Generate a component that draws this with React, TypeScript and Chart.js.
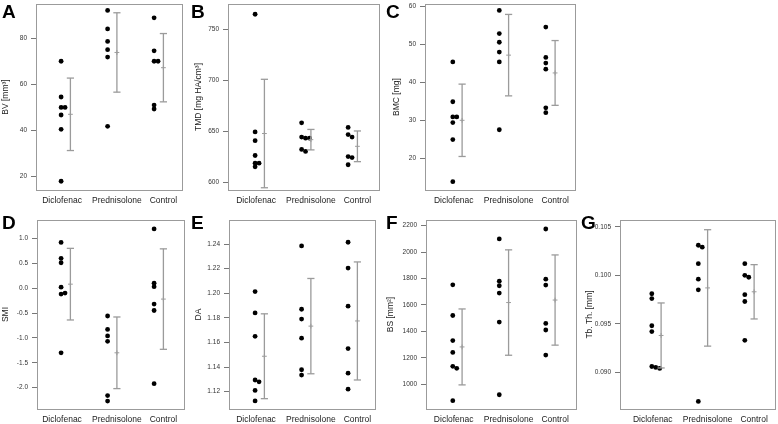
import React, { useEffect, useRef } from "react";
import { Chart, registerables } from "chart.js";
Chart.register(...registerables);

const FONT = "'Liberation Sans', Arial, Helvetica, sans-serif";
const GRAY = "#9b9b9b";

const groups = ["Diclofenac", "Prednisolone", "Control"];

// A — BV
const bvDiclofenac = [70, 54.5, 50, 50, 46.7, 40.5, 18];
const bvPrednisolone = [92, 84, 78.6, 75, 71.8, 41.8];
const bvControl = [88.8, 74.5, 70, 70, 51, 49.3];
const bvMean = [47, 73.8, 67.2];
const bvSd = [15.7, 17.2, 14.8];
const bvRange = [14.2, 94.8];
const bvTicks = [20, 40, 60, 80];
const bvTickLabels = ["20", "40", "60", "80"];

// B — TMD
const tmdDiclofenac = [764.6, 649.6, 641, 626.5, 619, 619, 615.5];
const tmdPrednisolone = [658.5, 644.5, 643.5, 643.5, 632.5, 630.5];
const tmdControl = [654, 647, 644.5, 625.5, 624.5, 617.5];
const tmdMean = [648, 642, 635.5];
const tmdSd = [53, 10, 15];
const tmdRange = [592.8, 774.6];
const tmdTicks = [600, 650, 700, 750];
const tmdTickLabels = ["600", "650", "700", "750"];

// C — BMC
const bmcDiclofenac = [45.4, 34.9, 30.9, 30.9, 29.4, 24.9, 13.8];
const bmcPrednisolone = [59, 52.9, 50.6, 48, 45.4, 27.5];
const bmcControl = [54.6, 46.6, 45.1, 43.5, 33.3, 32];
const bmcMean = [30, 47.2, 42.5];
const bmcSd = [9.55, 10.75, 8.55];
const bmcRange = [11.6, 60.7];
const bmcTicks = [20, 30, 40, 50, 60];
const bmcTickLabels = ["20", "30", "40", "50", "60"];

// D — SMI
const smiDiclofenac = [0.92, 0.6, 0.51, 0.02, -0.12, -0.1, -1.3];
const smiPrednisolone = [-0.56, -0.83, -0.96, -1.07, -2.16, -2.27];
const smiControl = [1.19, 0.1, 0.03, -0.32, -0.45, -1.92];
const smiMean = [0.08, -1.3, -0.22];
const smiSd = [0.72, 0.72, 1.01];
const smiRange = [-2.43, 1.37];
const smiTicks = [-2, -1.5, -1, -0.5, 0, 0.5, 1];
const smiTickLabels = ["-2.0", "-1.5", "-1.0", "-0.5", "0.0", "0.5", "1.0"];

// E — DA
const daDiclofenac = [1.2014, 1.184, 1.165, 1.1295, 1.128, 1.121, 1.1125];
const daPrednisolone = [1.2385, 1.187, 1.179, 1.1635, 1.1378, 1.1335];
const daControl = [1.2415, 1.2205, 1.1895, 1.155, 1.135, 1.122];
const daMean = [1.1488, 1.1733, 1.1775];
const daSd = [0.0345, 0.03875, 0.048];
const daRange = [1.1059, 1.2596];
const daTicks = [1.12, 1.14, 1.16, 1.18, 1.2, 1.22, 1.24];
const daTickLabels = ["1.12", "1.14", "1.16", "1.18", "1.20", "1.22", "1.24"];

// F — BS
const bsDiclofenac = [1752, 1520, 1330, 1240, 1135, 1120, 875];
const bsPrednisolone = [2100, 1780, 1745, 1690, 1470, 920];
const bsControl = [2175, 1795, 1750, 1460, 1410, 1220];
const bsMean = [1282, 1618, 1637];
const bsSd = [287.5, 399, 341.5];
const bsRange = [812, 2243];
const bsTicks = [1000, 1200, 1400, 1600, 1800, 2000, 2200];
const bsTickLabels = ["1000", "1200", "1400", "1600", "1800", "2000", "2200"];

// G — Tb.Th.
const tbthDiclofenac = [0.0981, 0.0976, 0.0948, 0.0942, 0.0906, 0.0905, 0.0904];
const tbthPrednisolone = [0.1031, 0.1029, 0.1012, 0.0996, 0.0985, 0.087];
const tbthControl = [0.1012, 0.1, 0.0998, 0.098, 0.0973, 0.0933];
const tbthMean = [0.0938, 0.0987, 0.0983];
const tbthSd = [0.00335, 0.006, 0.0028];
const tbthRange = [0.08622, 0.1057];
const tbthTicks = [0.09, 0.095, 0.1, 0.105];
const tbthTickLabels = ["0.090", "0.095", "0.100", "0.105"];

// layout (not data)
const PAD = 8;
const X_AXIS_H = 22;
const DOT_SHIFT = -0.1;
const EB_SHIFT = 0.1;
const STACK_STEP = 0.085;
const LABEL_POS = [0.92, 2.1, 3.1];

const PANELS = [
  { letter: "A", title: "BV [mm³]", values: [bvDiclofenac, bvPrednisolone, bvControl], mean: bvMean, sd: bvSd, range: bvRange, ticks: bvTicks, tickLabels: bvTickLabels,
    box: { l: 36, t: 4, r: 182, b: 190 }, titleX: 6.5, xMin: 0.36, xMax: 3.5, lx: 2, ly: 2 },
  { letter: "B", title: "TMD [mg HA/cm³]", values: [tmdDiclofenac, tmdPrednisolone, tmdControl], mean: tmdMean, sd: tmdSd, range: tmdRange, ticks: tmdTicks, tickLabels: tmdTickLabels,
    box: { l: 228, t: 4, r: 379, b: 190 }, titleX: 199.5, xMin: 0.317, xMax: 3.564, lx: 191, ly: 2 },
  { letter: "C", title: "BMC [mg]", values: [bmcDiclofenac, bmcPrednisolone, bmcControl], mean: bmcMean, sd: bmcSd, range: bmcRange, ticks: bmcTicks, tickLabels: bmcTickLabels,
    box: { l: 425, t: 4, r: 575, b: 190 }, titleX: 397, xMin: 0.302, xMax: 3.528, lx: 386, ly: 2 },
  { letter: "D", title: "SMI", values: [smiDiclofenac, smiPrednisolone, smiControl], mean: smiMean, sd: smiSd, range: smiRange, ticks: smiTicks, tickLabels: smiTickLabels,
    box: { l: 37, t: 220, r: 184, b: 409 }, titleX: 6, xMin: 0.382, xMax: 3.543, lx: 2, ly: 213 },
  { letter: "E", title: "DA", values: [daDiclofenac, daPrednisolone, daControl], mean: daMean, sd: daSd, range: daRange, ticks: daTicks, tickLabels: daTickLabels,
    box: { l: 229, t: 220, r: 375, b: 409 }, titleX: 199, xMin: 0.339, xMax: 3.479, lx: 191, ly: 213 },
  { letter: "F", title: "BS [mm²]", values: [bsDiclofenac, bsPrednisolone, bsControl], mean: bsMean, sd: bsSd, range: bsRange, ticks: bsTicks, tickLabels: bsTickLabels,
    box: { l: 426, t: 220, r: 576, b: 409 }, titleX: 391, xMin: 0.324, xMax: 3.55, lx: 386, ly: 213 },
  { letter: "G", title: "Tb. Th. [mm]", values: [tbthDiclofenac, tbthPrednisolone, tbthControl], mean: tbthMean, sd: tbthSd, range: tbthRange, ticks: tbthTicks, tickLabels: tbthTickLabels,
    box: { l: 620, t: 220, r: 775, b: 409 }, titleX: 590, xMin: 0.216, xMax: 3.549, lx: 581, ly: 213 },
];

const TITLE_SIZE = 8.5;
const TITLE_PAD = 1;
const TITLE_OFF = (TITLE_SIZE * 1.2) / 2 + TITLE_PAD;

function geometry(p: any) {
  const left = Math.round(p.titleX - TITLE_OFF);
  const top = p.box.t - PAD;
  const width = p.box.r + PAD - left;
  const height = p.box.b - top + X_AXIS_H;
  return { left, top, width, height, yw: p.box.l - left };
}

const boxPlugin = {
  id: "plotBox",
  beforeDatasetsDraw(chart: any) {
    const { ctx, chartArea } = chart;
    ctx.save();
    ctx.strokeStyle = GRAY;
    ctx.lineWidth = 1;
    ctx.strokeRect(chartArea.left + 0.5, chartArea.top + 0.5, chartArea.right - chartArea.left, chartArea.bottom - chartArea.top);
    ctx.restore();
  },
};

function buildConfig(p: any, g: any) {
  const [lo, hi] = p.range;
  const thr = (hi - lo) * 0.015;

  const dots: any[] = [];
  p.values.forEach((vals: number[], gi: number) => {
    const placed: number[] = [];
    vals.forEach((v) => {
      const slot = placed.filter((u) => Math.abs(u - v) < thr).length;
      placed.push(v);
      dots.push({ x: gi + 1 + DOT_SHIFT + slot * STACK_STEP, y: v });
    });
  });
  const whiskers: any[] = [];
  const means: any[] = [];
  p.mean.forEach((m: number, gi: number) => {
    const x = gi + 1 + EB_SHIFT;
    whiskers.push({ x, y: m - p.sd[gi] }, { x, y: m + p.sd[gi] }, { x, y: null });
    means.push({ x, y: m });
  });

  return {
    type: "scatter",
    data: {
      datasets: [
        {
          data: whiskers, showLine: true, spanGaps: false, borderColor: GRAY, borderWidth: 1.3,
          pointStyle: "line", pointRadius: 3.6, pointBorderColor: GRAY, pointBorderWidth: 1.3, pointBackgroundColor: GRAY,
        },
        { data: means, pointStyle: "cross", pointRadius: 2.4, pointBorderColor: GRAY, pointBorderWidth: 1, pointBackgroundColor: GRAY },
        { data: dots, pointStyle: "circle", pointRadius: 2.4, pointBackgroundColor: "#000", pointBorderColor: "#000", pointBorderWidth: 0 },
      ],
    },
    options: {
      animation: false,
      responsive: false,
      maintainAspectRatio: false,
      events: [],
      layout: { padding: { top: PAD, right: PAD, bottom: 0, left: 0 } },
      plugins: { legend: { display: false }, tooltip: { enabled: false } },
      scales: {
        x: {
          type: "linear", min: p.xMin, max: p.xMax,
          grid: { display: false, drawTicks: false }, border: { display: false },
          afterBuildTicks: (s: any) => { s.ticks = LABEL_POS.map((v) => ({ value: v })); },
          afterFit: (s: any) => { s.height = X_AXIS_H; },
          ticks: { autoSkip: false, maxRotation: 0, minRotation: 0, padding: 6, color: "#222", font: { family: FONT, size: 8.5 },
            callback: (_v: any, i: number) => groups[i] },
        },
        y: {
          type: "linear", min: lo, max: hi,
          afterBuildTicks: (s: any) => { s.ticks = p.ticks.map((v: number) => ({ value: v })); },
          afterFit: (s: any) => { s.width = g.yw; },
          grid: { display: true, drawOnChartArea: false, drawTicks: true, tickLength: 5, color: "#777", lineWidth: 1 },
          border: { display: false },
          ticks: { padding: 4, color: "#333", font: { family: FONT, size: 6.5 }, callback: (_v: any, i: number) => p.tickLabels[i] },
          title: { display: true, text: p.title, color: "#222", font: { family: FONT, size: TITLE_SIZE }, padding: { top: TITLE_PAD, bottom: 0 } },
        },
      },
    },
    plugins: [boxPlugin],
  };
}

function Panel({ p }: { p: any }) {
  const ref = useRef<HTMLCanvasElement | null>(null);
  const g = geometry(p);
  useEffect(() => {
    if (!ref.current) return;
    const chart = new Chart(ref.current, buildConfig(p, g) as any);
    return () => chart.destroy();
  }, []);
  return (
    <>
      <canvas ref={ref} width={g.width} height={g.height}
        style={{ position: "absolute", left: g.left, top: g.top, width: g.width, height: g.height }} />
      <div style={{ position: "absolute", left: p.lx, top: p.ly, fontFamily: FONT, fontWeight: "bold", fontSize: 19, lineHeight: "19px", color: "#000" }}>
        {p.letter}
      </div>
    </>
  );
}

export default function App() {
  return (
    <div style={{ position: "fixed", left: 0, top: 0, width: 778, height: 424, background: "#fff", overflow: "hidden" }}>
      {PANELS.map((p) => <Panel key={p.letter} p={p} />)}
    </div>
  );
}
